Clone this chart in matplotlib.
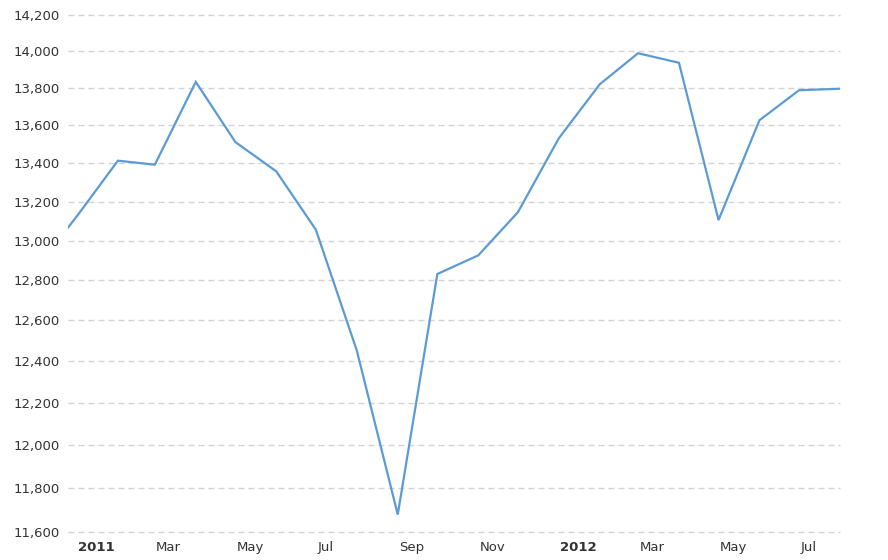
import datetime as dt
import numpy as np
import matplotlib
matplotlib.use('Agg')
import matplotlib.pyplot as plt
import matplotlib.dates as mdates
from matplotlib.ticker import FixedLocator, FuncFormatter, NullLocator
from matplotlib.transforms import ScaledTranslation

# month-end values (first point sits just outside the left edge)
months = ['2010-11-30', '2010-12-31',
          '2011-01-31', '2011-02-28', '2011-03-31', '2011-04-30', '2011-05-31', '2011-06-30',
          '2011-07-31', '2011-08-31', '2011-09-30', '2011-10-31', '2011-11-30', '2011-12-31',
          '2012-01-31', '2012-02-29', '2012-03-31', '2012-04-30', '2012-05-31', '2012-06-30',
          '2012-07-31']
values = [12860, 13125,
          13413, 13392, 13833, 13511, 13357, 13055,
          12452, 11678, 12831, 12925, 13145, 13531,
          13820, 13989, 13937, 13105, 13627, 13788,
          13796]
y_ticks = list(range(11600, 14201, 200))
x_tick_dates = ['2011-01-01', '2011-03-01', '2011-05-01', '2011-07-01', '2011-09-01', '2011-11-01',
                '2012-01-01', '2012-03-01', '2012-05-01', '2012-07-01']

dates = [dt.datetime.strptime(d, '%Y-%m-%d') for d in months]
tick_dates = [dt.datetime.strptime(d, '%Y-%m-%d') for d in x_tick_dates]

fig = plt.figure(figsize=(8.88, 5.6), dpi=100)
ax = fig.add_axes([68 / 888, 1 - 531.7 / 560, (840 - 68) / 888, (531.7 - 15) / 560])

ax.plot(dates, values, color='#5b9bd5', lw=1.6, solid_joinstyle='miter', zorder=3)

ax.set_yscale('log')
ax.set_ylim(11600, 14200)
ax.yaxis.set_major_locator(FixedLocator(y_ticks))
ax.yaxis.set_minor_locator(NullLocator())
ax.yaxis.set_major_formatter(FuncFormatter(lambda v, p: f'{v:,.0f}'))

ax.set_xlim(dt.datetime(2010, 12, 24, 5), dt.datetime(2012, 7, 31))
ax.set_xticks([mdates.date2num(d) for d in tick_dates])
ax.set_xticklabels([str(d.year) if d.month == 1 else d.strftime('%b') for d in tick_dates])
for lab, d in zip(ax.get_xticklabels(), tick_dates):
    lab.set_ha('left')
    lab.set_transform(lab.get_transform() + ScaledTranslation(2 / 100, 0, fig.dpi_scale_trans))
    if d.month == 1:
        lab.set_fontweight('bold')
        lab.set_color('#222222')

ax.grid(axis='y', color='#d3d3d3', lw=1.0, linestyle=(0, (4.3, 2.9)))
ax.grid(axis='x', visible=False)
for gl in ax.get_ygridlines():
    gl.set_clip_on(False)
for s in ax.spines.values():
    s.set_visible(False)
ax.tick_params(axis='both', length=0, labelsize=9.5, colors='#333333')
ax.tick_params(axis='y', pad=6)
ax.tick_params(axis='x', pad=7)

fig.savefig('out.png', dpi=100)
